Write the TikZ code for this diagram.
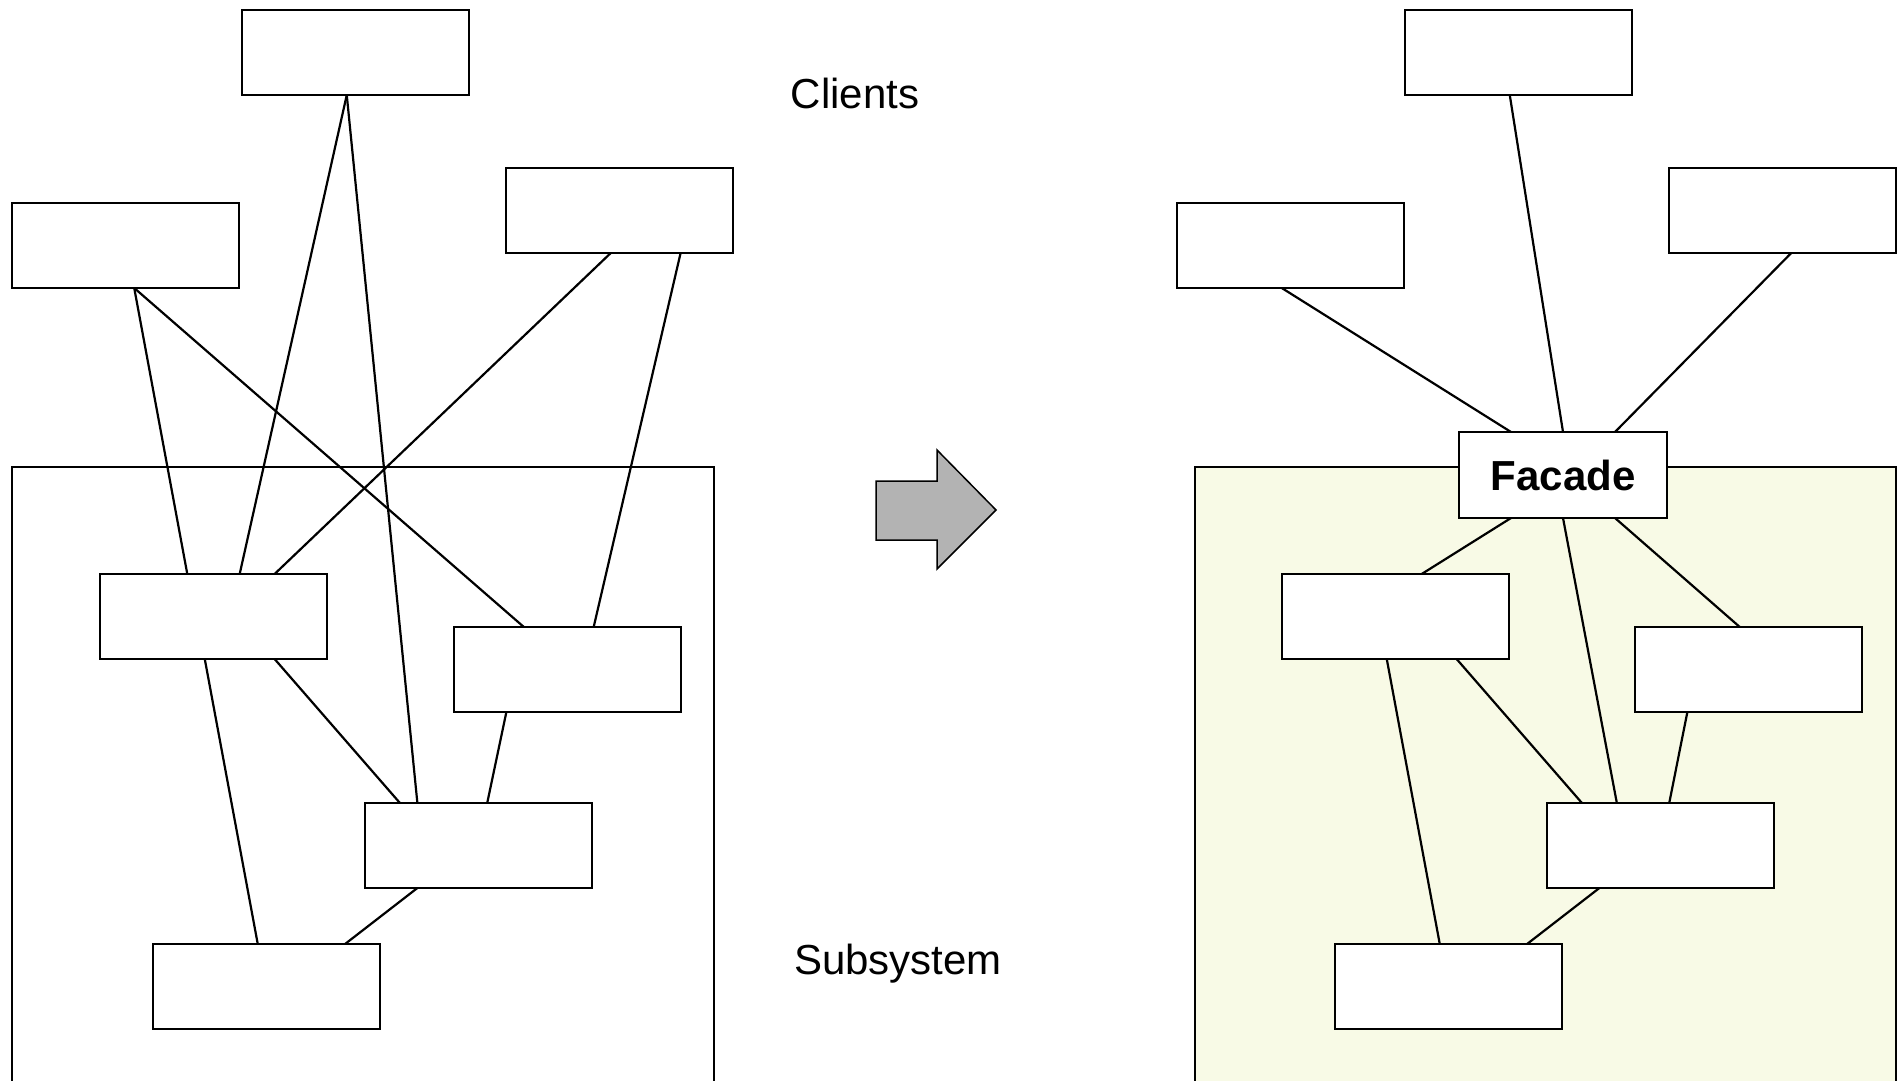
\documentclass[tikz,border=0pt]{standalone}
\usepackage{fontspec}
\setmainfont{Liberation Sans}
\newcommand{\gu}{17.46pt}
\begin{document}
\begin{tikzpicture}[x=1pt,y=-1pt, line width=2.2pt,
  cbox/.style={draw, fill=white, minimum width=227pt, minimum height=85pt, inner sep=0pt, outer sep=0pt, anchor=north west},
  lbl/.style={font=\fontsize{42}{50}\selectfont, anchor=base, inner sep=0pt},
  subfill/.style={fill={rgb,255:red,248;green,250;blue,230}},
  arrowfill/.style={fill={rgb,255:red,179;green,179;blue,179}}]
\useasboundingbox (0,0) rectangle (1898,1081);
% subsystem frames
\draw (12,1090) -- (12,467) -- (714,467) -- (714,1090);
\fill[subfill] (1195,467) rectangle (1896,1090);
\draw (1195,1090) -- (1195,467) -- (1896,467) -- (1896,1090);
% left boxes
\node[cbox] (c1) at (242,10) {};
\node[cbox] (c2) at (12,203) {};
\node[cbox] (c3) at (506,168) {};
\node[cbox] (s1) at (100,574) {};
\node[cbox] (s2) at (454,627) {};
\node[cbox] (s3) at (365,803) {};
\node[cbox] (s4) at (153,944) {};
% right boxes
\node[cbox] (rc1) at (1405,10) {};
\node[cbox] (rc2) at (1177,203) {};
\node[cbox] (rc3) at (1669,168) {};
\node[cbox] (rs1) at (1282,574) {};
\node[cbox] (rs2) at (1635,627) {};
\node[cbox] (rs3) at (1547,803) {};
\node[cbox] (rs4) at (1335,944) {};
\node[cbox, minimum width=208pt, minimum height=86pt, font=\fontsize{42}{50}\selectfont\bfseries] (fac) at (1459,432) {Facade};
% labels
\node[lbl] (clients) at (855,108.5) {Clients};
\node[lbl] (subsys) at (898,974) {Subsystem};
% arrow
\draw[arrowfill, line width=1.5pt, line join=miter] (876,481) -- (937,481) -- (937,450) -- (996,510) -- (937,569) -- (937,540) -- (876,540) -- cycle;
% left connectors
\draw ([xshift=6*\gu]c1.south west) -- ([xshift=8*\gu]s1.north west);
\draw ([xshift=6*\gu]c1.south west) -- ([xshift=3*\gu]s3.north west);
\draw ([xshift=7*\gu]c2.south west) -- ([xshift=5*\gu]s1.north west);
\draw ([xshift=7*\gu]c2.south west) -- ([xshift=4*\gu]s2.north west);
\draw ([xshift=6*\gu]c3.south west) -- ([xshift=10*\gu]s1.north west);
\draw ([xshift=10*\gu]c3.south west) -- ([xshift=8*\gu]s2.north west);
\draw ([xshift=6*\gu]s1.south west) -- ([xshift=6*\gu]s4.north west);
\draw ([xshift=10*\gu]s1.south west) -- ([xshift=2*\gu]s3.north west);
\draw ([xshift=3*\gu]s2.south west) -- ([xshift=7*\gu]s3.north west);
\draw ([xshift=3*\gu]s3.south west) -- ([xshift=11*\gu]s4.north west);
% right connectors
\draw ([xshift=6*\gu]rc2.south west) -- ([xshift=52pt]fac.north west);
\draw ([xshift=6*\gu]rc1.south west) -- (fac.north);
\draw ([xshift=7*\gu]rc3.south west) -- ([xshift=-52pt]fac.north east);
\draw ([xshift=52pt]fac.south west) -- ([xshift=8*\gu]rs1.north west);
\draw (fac.south) -- ([xshift=4*\gu]rs3.north west);
\draw ([xshift=-52pt]fac.south east) -- ([xshift=6*\gu]rs2.north west);
\draw ([xshift=6*\gu]rs1.south west) -- ([xshift=6*\gu]rs4.north west);
\draw ([xshift=10*\gu]rs1.south west) -- ([xshift=2*\gu]rs3.north west);
\draw ([xshift=3*\gu]rs2.south west) -- ([xshift=7*\gu]rs3.north west);
\draw ([xshift=3*\gu]rs3.south west) -- ([xshift=11*\gu]rs4.north west);
\end{tikzpicture}
\end{document}
